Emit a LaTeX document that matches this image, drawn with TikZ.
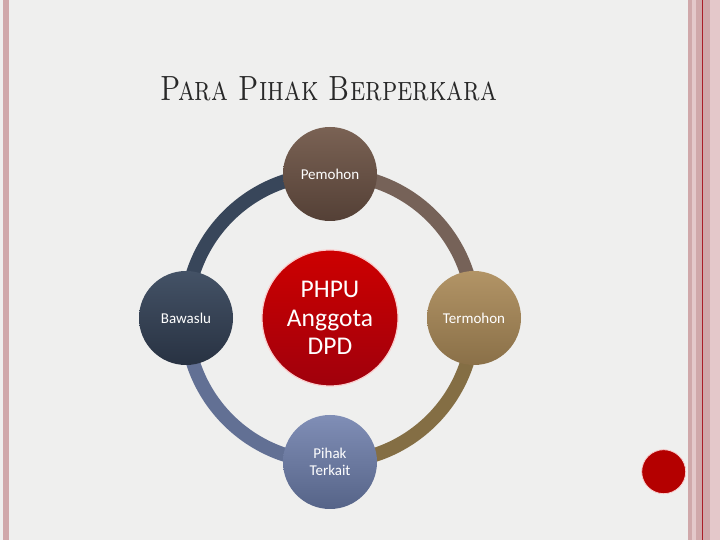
\documentclass[tikz,border=0pt]{standalone}
\usepackage{fontspec}
\newfontfamily\labelfont{Carlito}
\usetikzlibrary{backgrounds}
\definecolor{paper}{RGB}{239,239,238}
\definecolor{stripPink}{RGB}{208,168,170}
\definecolor{stripLight}{RGB}{228,200,202}
\definecolor{stripRed}{RGB}{170,30,40}
\definecolor{pemohonTop}{RGB}{122,98,84}
\definecolor{pemohonBottom}{RGB}{84,64,54}
\definecolor{bawasluTop}{RGB}{68,82,102}
\definecolor{bawasluBottom}{RGB}{40,50,66}
\definecolor{termohonTop}{RGB}{178,148,102}
\definecolor{termohonBottom}{RGB}{138,112,72}
\definecolor{pihakTop}{RGB}{128,142,182}
\definecolor{pihakBottom}{RGB}{86,100,136}
\definecolor{phpuTop}{RGB}{205,0,0}
\definecolor{phpuBottom}{RGB}{160,0,12}
\definecolor{phpuGlow}{RGB}{250,205,205}
\definecolor{dotRed}{RGB}{180,0,0}
\begin{document}
\begin{tikzpicture}[x=1pt,y=1pt]
		\tikzstyle{Party} = [circle, minimum size=94pt, inner sep=0pt, text=white, align=center, font=\labelfont\fontsize{15}{17}\selectfont]
		\tikzstyle{Case} = [circle, minimum size=136pt, inner sep=0pt, text=white, align=center, font=\labelfont\fontsize{25.5}{28.5}\selectfont, top color=phpuTop, bottom color=phpuBottom, draw=phpuGlow, line width=1.2pt]
		\tikzstyle{ring} = [line width=14pt]
		
		\fill [stripPink] (2.7,0) rectangle (9,540);
		\fill [stripPink] (688,0) rectangle (692,540);
		\fill [stripLight] (692,0) rectangle (696,540);
		\fill [stripPink] (696,0) rectangle (720,540);
		\fill [stripRed] (701.6,0) rectangle (702.6,540);
		\fill [stripLight] (710,0) rectangle (720,540);
		\node (title) [anchor=base west, inner sep=0pt, xscale=0.785, font=\fontsize{35}{40}\selectfont, text={rgb,255:red,40;green,40;blue,40}] at (160,439) {\textsc{Para Pihak Berperkara}};
		\node (pemohon) [Party, top color=pemohonTop, bottom color=pemohonBottom] at (330,366) {Pemohon};
		\node (termohon) [Party, top color=termohonTop, bottom color=termohonBottom] at (474,222) {Termohon};
		\node (pihak) [Party, top color=pihakTop, bottom color=pihakBottom] at (330,78) {Pihak\\Terkait};
		\node (bawaslu) [Party, top color=bawasluTop, bottom color=bawasluBottom] at (186,222) {Bawaslu};
		\node (phpu) [Case] at (330,222) {PHPU\\Anggota\\DPD};
		\node (dot) [circle, minimum size=44pt, fill=dotRed, draw=phpuGlow, line width=0.8pt] at (663.7,68.3) {};
		\begin{scope}[on background layer]
		\fill [paper] (0,0) rectangle (720,540);
		\draw [ring, draw={rgb,255:red,118;green,98;blue,88}] (pemohon.center) to[bend left=45] (termohon.center);
		\draw [ring, draw={rgb,255:red,132;green,110;blue,68}] (termohon.center) to[bend left=45] (pihak.center);
		\draw [ring, draw={rgb,255:red,98;green,112;blue,148}] (pihak.center) to[bend left=45] (bawaslu.center);
		\draw [ring, draw={rgb,255:red,56;green,70;blue,90}] (bawaslu.center) to[bend left=45] (pemohon.center);
		\end{scope}
\end{tikzpicture}
\end{document}
